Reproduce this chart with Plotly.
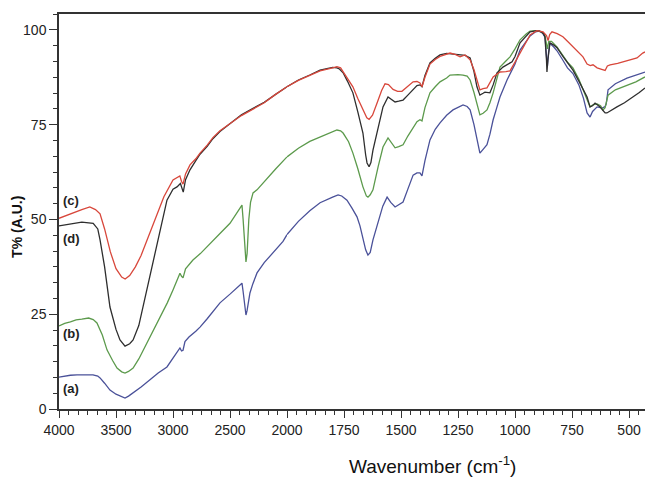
import plotly.graph_objects as go

# ---- data (wavenumber cm-1, transmittance %) ----
wn_c = [4000, 3900, 3800, 3730, 3680, 3640, 3600, 3550, 3500, 3450, 3420, 3380, 3330, 3280, 3228, 3150, 3080, 3000,
        2960, 2940, 2925, 2912, 2890, 2851, 2800, 2763, 2700, 2650, 2588, 2500, 2400, 2298, 2200, 2100, 2000,
        1950, 1900, 1855, 1800, 1781, 1765, 1754, 1735, 1711, 1690, 1667, 1650, 1640, 1625, 1605, 1585, 1570,
        1555, 1535, 1515, 1496, 1475, 1447, 1430, 1417, 1408, 1395, 1373, 1350, 1329, 1300, 1285, 1260, 1241,
        1219, 1197, 1180, 1167, 1154, 1140, 1123, 1096, 1066, 1040, 1022, 1000, 978, 950, 934, 904, 877, 862,
        855, 848, 838, 815, 790, 770, 746, 720, 702, 684, 670, 658, 640, 620, 605, 595, 583, 550, 526, 500,
        465, 440, 430]
t_c = [50.3, 51.5, 52.6, 53.3, 52.6, 51.5, 47.5, 41.5, 37.0, 34.8, 34.3, 35.2, 37.5, 40.5, 44.6, 50.5, 56.0, 60.4,
       61.0, 61.5, 60.0, 59.3, 62.0, 64.4, 66.0, 67.5, 69.6, 71.6, 73.4, 75.3, 77.4, 79.1, 80.8, 83.0, 85.0,
       86.7, 88.0, 89.2, 90.0, 90.3, 90.0, 89.0, 87.5, 85.0, 82.0, 78.9, 76.8, 76.4, 77.5, 80.7, 84.0, 85.8,
       85.6, 84.3, 83.8, 83.8, 84.8, 86.3, 86.4, 86.0, 85.0, 87.5, 91.0, 92.2, 93.0, 93.6, 93.9, 93.5, 92.9,
       93.4, 92.1, 89.5, 86.8, 84.2, 84.5, 84.7, 87.6, 88.9, 89.0, 89.2, 91.5, 93.9, 97.0, 98.7, 99.8, 99.5, 98.5,
       97.2, 98.8, 99.5, 99.0, 98.2, 97.0, 95.5, 94.0, 92.9, 91.0, 90.6, 90.8, 90.0, 89.6, 89.3, 90.5, 90.8, 91.2,
       91.6, 92.0, 92.6, 93.9, 94.2]

wn_d = [4000, 3900, 3800, 3700, 3660, 3640, 3600, 3553, 3500, 3465, 3421, 3380, 3350, 3300, 3263, 3220, 3175, 3114,
        3053, 3000, 2965, 2935, 2921, 2910, 2890, 2851, 2800, 2763, 2700, 2650, 2588, 2500, 2400, 2298, 2200, 2100,
        2000, 1950, 1900, 1855, 1800, 1781, 1770, 1754, 1735, 1711, 1690, 1667, 1655, 1649, 1640, 1632, 1623, 1600,
        1579, 1557, 1540, 1526, 1510, 1491, 1470, 1447, 1430, 1417, 1408, 1395, 1373, 1350, 1329, 1300, 1270, 1241,
        1219, 1197, 1180, 1167, 1154, 1140, 1132, 1110, 1096, 1079, 1053, 1013, 1000, 978, 950, 934, 905, 891, 875,
        869, 862, 860, 856, 847, 830, 816, 790, 770, 746, 720, 700, 684, 671, 660, 649, 635, 627, 615, 605, 597,
        580, 553, 520, 483, 455, 430]
t_d = [48.3, 48.9, 49.3, 49.0, 47.5, 44.6, 37.5, 26.9, 21.0, 18.2, 16.6, 17.2, 18.2, 22.0, 26.9, 33.0, 39.3, 46.5,
       55.1, 58.0, 58.6, 59.5, 58.3, 57.2, 60.5, 63.1, 65.5, 67.2, 69.3, 71.3, 73.2, 75.3, 77.6, 79.3, 80.9, 83.0,
       85.0, 86.8, 88.1, 89.4, 90.1, 90.0, 89.7, 88.7, 86.5, 83.4, 78.5, 72.8, 67.0, 64.9, 63.9, 65.0, 68.3, 74.5,
       79.7, 82.3, 81.5, 81.0, 81.2, 81.5, 82.8, 84.2, 85.3, 85.5, 85.0, 88.0, 91.3, 92.5, 93.4, 93.8, 93.6, 93.4,
       93.3, 92.6, 89.0, 85.0, 82.8, 83.3, 83.6, 83.4, 85.5, 88.7, 90.2, 91.6, 93.0, 96.6, 98.5, 99.5, 99.8, 99.7, 99.0,
       98.2, 92.0, 88.9, 92.0, 96.6, 96.0, 95.3, 93.0, 91.3, 89.4, 86.5, 84.0, 82.3, 79.7, 80.0, 80.7, 80.0, 79.7,
       78.8, 78.1, 78.1, 78.8, 79.7, 80.8, 82.3, 83.5, 84.7]

wn_b = [4000, 3950, 3900, 3850, 3800, 3740, 3700, 3667, 3620, 3579, 3530, 3491, 3450, 3421, 3390, 3350, 3300, 3228,
        3170, 3114, 3050, 3000, 2960, 2939, 2925, 2912, 2890, 2860, 2825, 2760, 2702, 2650, 2588, 2500, 2450, 2410,
        2395, 2385, 2370, 2360, 2350, 2335, 2320, 2298, 2263, 2200, 2100, 2000, 1950, 1900, 1855, 1800, 1781, 1765,
        1754, 1730, 1711, 1690, 1667, 1652, 1645, 1635, 1623, 1600, 1579, 1557, 1540, 1526, 1510, 1491, 1470, 1447,
        1430, 1417, 1408, 1395, 1373, 1350, 1329, 1300, 1285, 1250, 1228, 1210, 1197, 1180, 1167, 1154, 1140, 1123,
        1110, 1096, 1080, 1066, 1040, 1022, 1000, 978, 950, 934, 904, 885, 870, 862, 858, 852, 840, 816, 790, 770,
        746, 720, 700, 684, 671, 660, 640, 625, 614, 605, 592, 560, 509, 470, 430]
t_b = [21.9, 22.6, 23.0, 23.5, 23.7, 24.0, 23.6, 22.7, 19.5, 15.6, 12.8, 10.8, 9.8, 9.5, 9.9, 10.8, 13.2, 17.4,
       20.8, 24.3, 28.0, 31.4, 34.5, 35.8, 35.0, 34.6, 37.0, 38.2, 39.3, 41.0, 42.7, 44.3, 46.3, 49.0, 51.3, 53.2,
       53.8, 50.0, 42.0, 38.8, 41.0, 50.0, 54.5, 57.0, 57.8, 60.0, 63.3, 66.5, 68.8, 70.6, 71.8, 73.2, 73.6, 73.4,
       72.8, 70.5, 67.5, 63.5, 58.6, 56.2, 55.9, 56.5, 57.8, 64.0, 69.1, 71.5, 70.2, 68.9, 69.2, 69.7, 72.0, 74.4,
       75.8, 76.3, 76.0, 79.5, 83.4, 85.0, 86.3, 87.3, 88.1, 88.2, 88.1, 87.8, 86.8, 83.5, 80.7, 77.6, 78.0, 78.9,
       80.8, 83.4, 87.0, 90.2, 91.8, 92.9, 95.0, 97.4, 99.0, 99.7, 99.8, 99.5, 98.8, 96.5, 95.0, 97.0, 97.0, 95.5,
       93.2, 91.5, 90.0, 87.0, 84.0, 81.5, 79.7, 80.2, 80.5, 80.0, 78.9, 79.5, 82.8, 84.2, 85.5, 86.3, 87.6]

wn_a = [4000, 3950, 3900, 3842, 3750, 3702, 3660, 3640, 3600, 3553, 3500, 3450, 3421, 3390, 3350, 3280, 3202, 3130,
        3053, 3000, 2960, 2939, 2925, 2912, 2895, 2860, 2800, 2763, 2700, 2650, 2588, 2500, 2450, 2410, 2395, 2385,
        2370, 2360, 2350, 2335, 2325, 2300, 2263, 2200, 2100, 2035, 2000, 1950, 1900, 1855, 1800, 1776, 1760, 1737,
        1715, 1693, 1680, 1667, 1655, 1645, 1635, 1623, 1600, 1580, 1561, 1545, 1526, 1510, 1491, 1470, 1447, 1430,
        1417, 1408, 1395, 1373, 1350, 1329, 1300, 1272, 1250, 1228, 1210, 1197, 1180, 1167, 1154, 1140, 1123, 1110,
        1096, 1080, 1066, 1035, 1000, 978, 950, 934, 910, 895, 880, 868, 862, 858, 853, 847, 830, 816, 790, 770,
        746, 720, 700, 684, 671, 660, 640, 618, 605, 600, 592, 560, 509, 470, 430]
t_a = [8.4, 8.7, 8.9, 9.0, 9.1, 9.0, 8.7, 8.2, 6.8, 5.0, 3.9, 3.2, 2.9, 3.4, 4.2, 5.8, 7.7, 9.5,
       11.1, 13.5, 15.5, 16.1, 15.3, 15.5, 17.8, 19.0, 20.5, 21.6, 23.8, 25.8, 28.0, 30.3, 31.6, 32.7, 33.2, 31.0,
       27.0, 24.8, 26.0, 28.8, 30.6, 33.0, 35.9, 38.6, 42.0, 44.2, 46.0, 49.5, 52.3, 54.4, 55.9, 56.5, 56.2, 55.1,
       53.0, 50.7, 48.3, 45.4, 42.0, 40.6, 41.3, 44.6, 49.3, 53.5, 55.9, 54.5, 53.3, 53.8, 54.6, 58.0, 61.7, 62.3,
       62.3, 61.5, 65.5, 71.0, 73.8, 75.5, 77.5, 78.9, 79.6, 80.2, 79.8, 78.9, 75.0, 71.0, 67.5, 68.5, 69.7, 72.5,
       76.3, 79.5, 82.3, 86.8, 91.0, 94.7, 97.2, 98.4, 99.5, 99.7, 99.2, 98.0, 93.0, 90.5, 94.0, 96.5, 95.5, 94.5,
       92.0, 90.0, 88.5, 85.5, 82.0, 78.1, 77.0, 78.5, 79.7, 79.4, 79.8, 80.5, 84.2, 85.8, 87.3, 88.0, 88.9]

series = [
    ("(a)", wn_a, t_a, "#4a5199"),
    ("(b)", wn_b, t_b, "#5c9a4c"),
    ("(d)", wn_d, t_d, "#2e2e2e"),
    ("(c)", wn_c, t_c, "#d8473b"),
]
label_pos = {"(c)": 54.9, "(d)": 45.1, "(b)": 19.8, "(a)": 5.5}

x_ticks_left = [4000, 3500, 3000, 2500, 2000]
x_ticks_right = [1750, 1500, 1250, 1000, 750, 500]
y_ticks = [0, 25, 50, 75, 100]

BREAK = 2000
fig = go.Figure()
for name, wn, t, col in series:
    lx = [w for w in wn if w >= BREAK]
    ly = [v for w, v in zip(wn, t) if w >= BREAK]
    rx = [w for w in wn if w <= BREAK]
    ry = [v for w, v in zip(wn, t) if w <= BREAK]
    fig.add_trace(go.Scatter(x=lx, y=ly, mode="lines", line=dict(color=col, width=1.3),
                             xaxis="x", yaxis="y", showlegend=False, hoverinfo="skip"))
    fig.add_trace(go.Scatter(x=rx, y=ry, mode="lines", line=dict(color=col, width=1.3),
                             xaxis="x2", yaxis="y", showlegend=False, hoverinfo="skip"))

tickfont = dict(family="Liberation Sans, Arial", size=14, color="#222")
ax_common = dict(showline=True, linecolor="#333", linewidth=1.8, mirror=True, ticks="outside",
                 ticklen=7, tickwidth=1.2, tickcolor="#333", showgrid=False, zeroline=False,
                 tickfont=tickfont, anchor="y", automargin=False)
split = 228 / 586
fig.update_layout(
    width=645, height=478, autosize=False,
    margin=dict(l=59, r=0, t=14, b=69),
    paper_bgcolor="white", plot_bgcolor="white",
    hovermode=False,
    xaxis=dict(domain=[0, split], range=[4000, BREAK], tickmode="array", tickvals=x_ticks_left,
               minor=dict(ticks="outside", ticklen=4, tickcolor="#333", dtick=500 / 6, tick0=4000), **ax_common),
    xaxis2=dict(domain=[split, 1], range=[BREAK, 430], tickmode="array", tickvals=x_ticks_right,
                minor=dict(ticks="outside", ticklen=4, tickcolor="#333", dtick=250 / 6, tick0=2000), **ax_common),
    yaxis=dict(range=[0, 104.2], tickmode="array", tickvals=y_ticks, anchor="x", automargin=False,
               showline=True, linecolor="#333", linewidth=1.5, ticks="outside", ticklen=8, tickwidth=1.2,
               tickcolor="#333", showgrid=False, zeroline=False, tickfont=tickfont,
               minor=dict(ticks="outside", ticklen=4, tickcolor="#333", dtick=25 / 6, tick0=0)),
)

for name, y in label_pos.items():
    fig.add_annotation(x=3985, y=y, xref="x", yref="y", text="<b>" + name + "</b>", showarrow=False,
                       xanchor="left", yanchor="middle",
                       font=dict(family="Liberation Sans, Arial", size=13, color="#222"))

fig.add_annotation(x=(432 - 59) / 586, y=-0.142, xref="paper", yref="paper",
                   text="Wavenumber (cm<sup>-1</sup>)", showarrow=False, xanchor="center", yanchor="middle",
                   font=dict(family="Liberation Sans, Arial", size=19, color="#111"))
fig.add_annotation(x=(17 - 59) / 586, y=0.461, xref="paper", yref="paper", textangle=-90,
                   text="<b>T% (A.U.)</b>", showarrow=False, xanchor="center", yanchor="middle",
                   font=dict(family="Liberation Sans, Arial", size=14, color="#111"))

# remove the default page margin so the figure fills the window exactly
fig.write_html("out.html", config={"displayModeBar": False},
               post_script="document.body.style.margin='0';document.body.style.overflow='hidden';")
